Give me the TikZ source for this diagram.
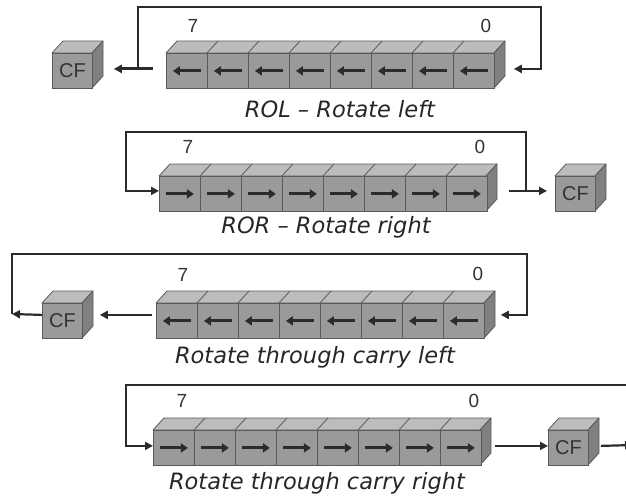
\documentclass[tikz,border=0pt]{standalone}
\usepackage{fontspec}
\setmainfont{Liberation Sans}
\newfontfamily\capfont{DejaVu Sans}
\usetikzlibrary{arrows.meta}
\definecolor{frontc}{HTML}{9A9A9A}
\definecolor{topc}{HTML}{BCBCBC}
\definecolor{sidec}{HTML}{808080}
\definecolor{edgec}{HTML}{5A5A5A}
\definecolor{linec}{HTML}{2B2B2B}
\definecolor{textc}{HTML}{333333}
\tikzset{
  cell/.style={draw=edgec, fill=frontc, line width=0.8pt, minimum width=41pt, minimum height=35pt, inner sep=0pt, anchor=north west},
  cfbox/.style={cell, minimum width=40pt, text=textc, font=\fontsize{20}{20}\selectfont},
  topface/.style={draw=edgec, fill=topc, line width=0.8pt, line join=round},
  sideface/.style={draw=edgec, fill=sidec, line width=0.8pt, line join=round},
  edgeline/.style={draw=edgec, line width=0.8pt},
  bitarrow/.style={draw=linec, line width=3pt, -{Triangle[length=7pt,width=9pt]}},
  conn/.style={draw=linec, line width=2.2pt, -{Triangle[length=8pt,width=8pt]}},
  plainconn/.style={draw=linec, line width=2.2pt},
  bitlabel/.style={font=\fontsize{19}{19}\selectfont, text=textc},
  caption/.style={font=\capfont\itshape\fontsize{22.5}{22.5}\selectfont, anchor=base, text=black!85}
}
% #1 x, #2 y (front top), #3 front width, #4 number of divisions
\newcommand\cubefaces[4]{%
  \draw[topface] (#1,#2) -- ++(11,-12) -- ++(#3,0) -- ++(-11,12) -- cycle;
  \draw[sideface] (#1+#3,#2) -- ++(11,-12) -- ++(0,35) -- ++(-11,12) -- cycle;
  \ifnum#4>0
    \foreach \k in {1,...,#4} \draw[edgeline] (#1+\k*41,#2) -- ++(11,-12);
  \fi
}
\begin{document}
\begin{tikzpicture}[x=1pt,y=-1pt]
\useasboundingbox (0,0) rectangle (626,499);
\clip (0,0) rectangle (626,499);

% ---------- Row 1: ROL ----------
\cubefaces{166}{53}{328}{7}
\cubefaces{52}{53}{40}{0}
\foreach \p in {0,...,7} \node[cell] (r1p\p) at (166+\p*41,53) {};
\node[cfbox] (cf1) at (52,53) {CF};
\foreach \p in {0,...,7} \draw[bitarrow] ([xshift=14pt]r1p\p.center) -- ([xshift=-14pt]r1p\p.center);
\node[bitlabel] (r1b7) at (193,26) {7};
\node[bitlabel] (r1b0) at (486,26) {0};
\coordinate (r1tr) at (541,7);
\draw[conn, line width=3pt] ([xshift=-13pt,yshift=2pt]r1p0.west) -- ([xshift=21pt,yshift=2pt]cf1.east);
\draw[conn, line width=2.6pt] ([xshift=-28pt,yshift=2pt]r1p0.west) |- (r1tr) |- ([xshift=19pt,yshift=2pt]r1p7.east);
\node[caption] (cap1) at (340,117) {ROL – Rotate left};

% ---------- Row 2: ROR ----------
\cubefaces{159}{176}{327}{7}
\cubefaces{555}{176}{40}{0}
\foreach \p in {0,...,7} \node[cell] (r2p\p) at (159+\p*41,176) {};
\node[cfbox] (cf2) at (555,176) {CF};
\foreach \p in {0,...,7} \draw[bitarrow] ([xshift=-14pt]r2p\p.center) -- ([xshift=14pt]r2p\p.center);
\node[bitlabel] (r2b7) at (188,147) {7};
\node[bitlabel] (r2b0) at (480,147) {0};
\coordinate (r2split) at (526,190);
\coordinate (r2tl) at (126,132);
\draw[conn] ([xshift=21pt,yshift=3pt]r2p7.east) -- ([xshift=-8pt,yshift=3pt]cf2.west);
\draw[conn] (r2split) |- (r2tl) |- ([yshift=3pt]r2p0.west);
\node[caption] (cap2) at (326,233) {ROR – Rotate right};

% ---------- Row 3: RCL ----------
\cubefaces{156}{303}{328}{7}
\cubefaces{42}{303}{40}{0}
\foreach \p in {0,...,7} \node[cell] (r3p\p) at (156+\p*41,303) {};
\node[cfbox] (cf3) at (42,303) {CF};
\foreach \p in {0,...,7} \draw[bitarrow] ([xshift=14pt]r3p\p.center) -- ([xshift=-14pt]r3p\p.center);
\node[bitlabel] (r3b7) at (183,275) {7};
\node[bitlabel] (r3b0) at (478,274) {0};
\coordinate (r3corner) at (12,314);
\coordinate (r3tr) at (527,254);
\draw[conn] ([xshift=-4pt,yshift=6pt]r3p0.west) -- ([xshift=17pt,yshift=6pt]cf3.east);
\draw[conn] ([yshift=6pt]cf3.west) -- (r3corner);
\draw[conn] (r3corner) |- (r3tr) |- ([xshift=16pt,yshift=6pt]r3p7.east);
\node[caption] (cap3) at (315,363) {Rotate through carry left};

% ---------- Row 4: RCR ----------
\cubefaces{153}{430}{327}{7}
\cubefaces{548}{430}{40}{0}
\foreach \p in {0,...,7} \node[cell] (r4p\p) at (153+\p*41,430) {};
\node[cfbox] (cf4) at (548,430) {CF};
\foreach \p in {0,...,7} \draw[bitarrow] ([xshift=-14pt]r4p\p.center) -- ([xshift=14pt]r4p\p.center);
\node[bitlabel] (r4b7) at (182,401) {7};
\node[bitlabel] (r4b0) at (474,401) {0};
\coordinate (r4tr) at (640,385);
\coordinate (r4out) at (633,445);
\draw[conn] (r4tr) -| ([xshift=-27pt,yshift=2pt]r4p0.west) -- ([yshift=2pt]r4p0.west);
\draw[conn] ([xshift=13pt,yshift=2pt]r4p7.east) -- ([yshift=2pt]cf4.west);
\draw[conn] ([xshift=12pt,yshift=2pt]cf4.east) -- (r4out);
\node[caption] (cap4) at (317,489) {Rotate through carry right};
\end{tikzpicture}
\end{document}
